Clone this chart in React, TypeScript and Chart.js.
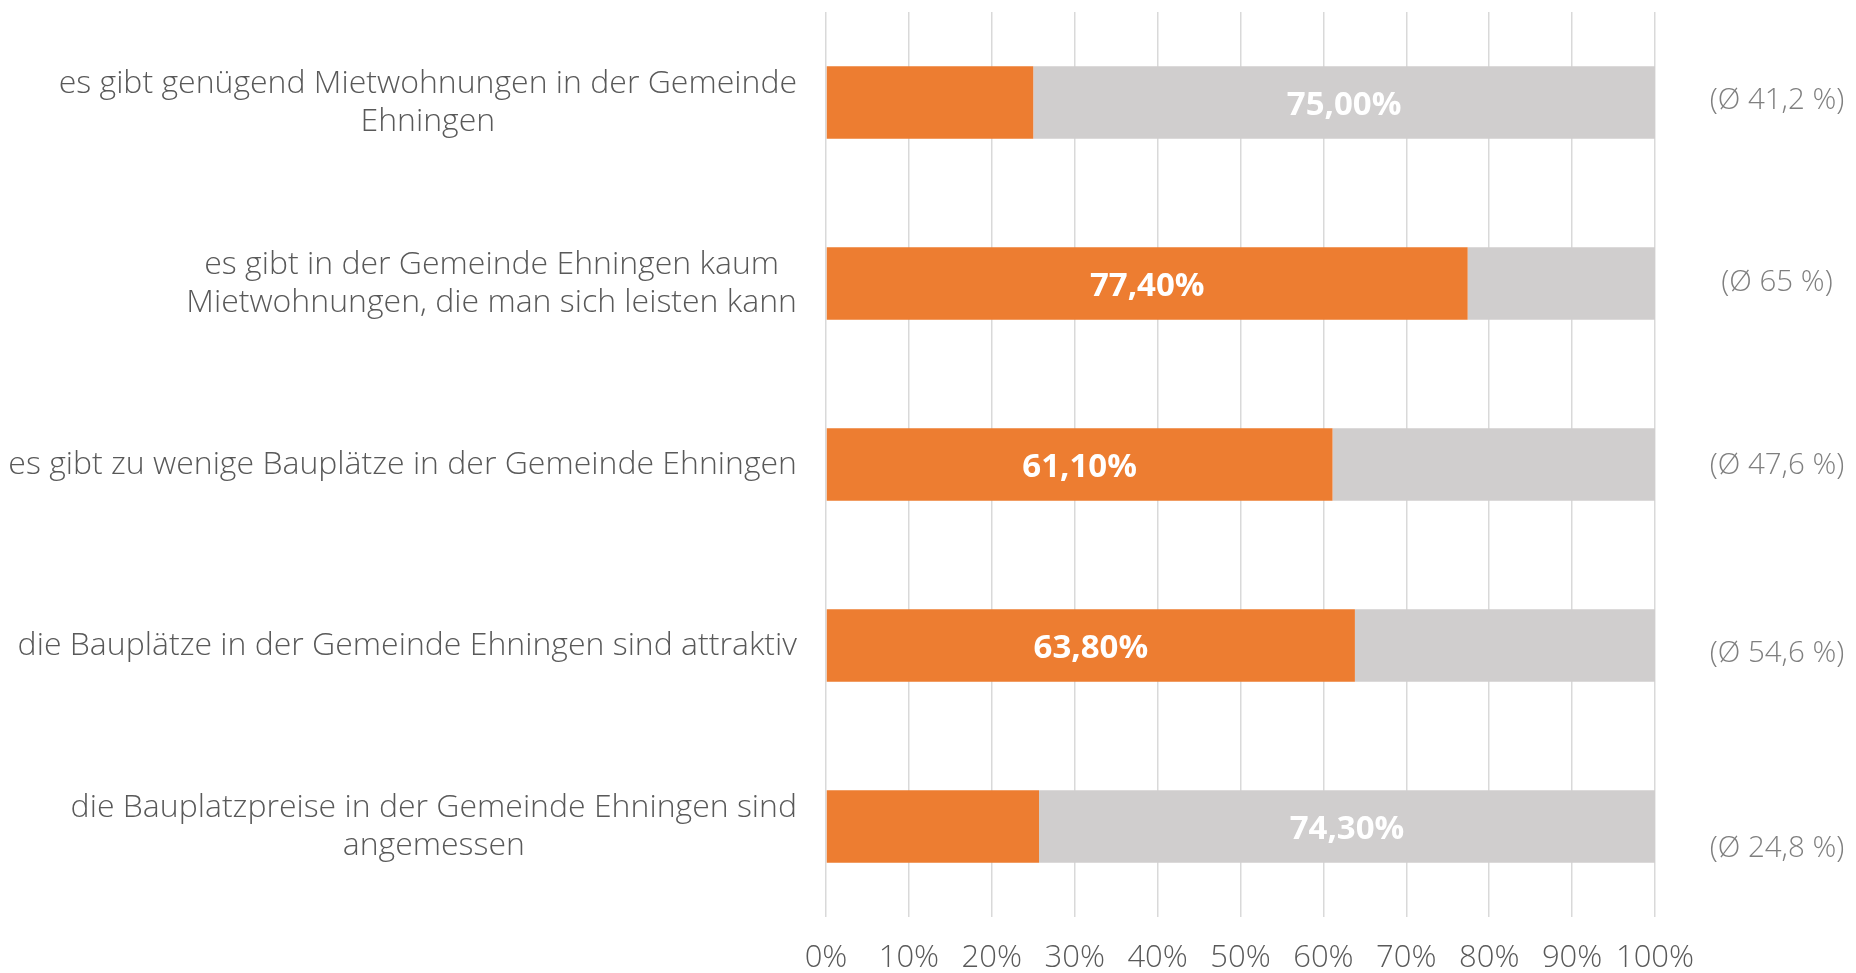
import React, { useEffect, useRef } from "react";
import { Chart, registerables } from "chart.js";

Chart.register(...registerables);

const categoryLines: string[][] = [
  ["es gibt genügend Mietwohnungen in der Gemeinde", "Ehningen"],
  ["es gibt in der Gemeinde Ehningen kaum", "Mietwohnungen, die man sich leisten kann"],
  ["es gibt zu wenige Bauplätze in der Gemeinde Ehningen"],
  ["die Bauplätze in der Gemeinde Ehningen sind attraktiv"],
  ["die Bauplatzpreise in der Gemeinde Ehningen sind", "angemessen"],
];
const agreeValues = [25.0, 77.4, 61.1, 63.8, 25.7];
const disagreeValues = [75.0, 22.6, 38.9, 36.2, 74.3];
const averageLabels = ["(Ø 41,2 %)", "(Ø 65 %)", "(Ø 47,6 %)", "(Ø 54,6 %)", "(Ø 24,8 %)"];

// layout-only nudges for the right-hand average notes (px)
const averageNudges = [-2, -1, 1, 8, 22];

const FONT = "'Open Sans', Lato, 'Noto Sans', sans-serif";
const ORANGE = "#ED7D31";
const GRAY = "#D0CECE";
const TEXT = "#595959";
const NOTE = "#7F7F7F";

const fmt = (v: number) => v.toFixed(2).replace(".", ",") + "%";

const overlayPlugin = {
  id: "overlay",
  afterDraw(chart: any) {
    const ctx = chart.ctx as CanvasRenderingContext2D;
    const yScale = chart.scales.y;
    const area = chart.chartArea;
    ctx.save();
    // category labels
    ctx.font = `300 32px ${FONT}`;
    ctx.fillStyle = TEXT;
    ctx.textAlign = "center";
    ctx.textBaseline = "middle";
    const rightEdge = area.left - 29;
    categoryLines.forEach((lines, i) => {
      const cy = yScale.getPixelForValue(i);
      const maxW = Math.max(...lines.map((l) => ctx.measureText(l).width));
      const cx = rightEdge - maxW / 2;
      lines.forEach((l, j) => {
        ctx.fillText(l, cx, cy + (j - (lines.length - 1) / 2) * 38);
      });
    });
    // value labels
    ctx.font = `bold 33px ${FONT}`;
    ctx.fillStyle = "#FFFFFF";
    const m0 = chart.getDatasetMeta(0);
    const m1 = chart.getDatasetMeta(1);
    agreeValues.forEach((a, i) => {
      const d = disagreeValues[i];
      const useAgree = a >= d;
      const el = (useAgree ? m0 : m1).data[i];
      const x = (el.x + el.base) / 2;
      ctx.fillText(fmt(useAgree ? a : d), x, el.y + 3);
    });
    // average notes
    ctx.font = `300 29.5px ${FONT}`;
    ctx.fillStyle = NOTE;
    averageLabels.forEach((t, i) => {
      const cy = yScale.getPixelForValue(i);
      ctx.fillText(t, area.right + 122, cy + averageNudges[i]);
    });
    ctx.restore();
  },
};

export default function App() {
  const ref = useRef<HTMLCanvasElement>(null);
  useEffect(() => {
    document.body.style.margin = "0";
    const chart = new Chart(ref.current!, {
      type: "bar",
      data: {
        labels: categoryLines.map((l) => l.join(" ")),
        datasets: [
          { label: "stimme zu", data: agreeValues, backgroundColor: ORANGE, barPercentage: 0.5, categoryPercentage: 0.8 },
          { label: "stimme nicht zu", data: disagreeValues, backgroundColor: GRAY, barPercentage: 0.5, categoryPercentage: 0.8 },
        ],
      },
      options: {
        indexAxis: "y",
        responsive: false,
        animation: false,
        layout: { padding: { left: 826, right: 201, top: 12, bottom: 0 } },
        plugins: { legend: { display: false }, tooltip: { enabled: false } },
        scales: {
          x: {
            stacked: true,
            min: 0,
            max: 100,
            afterFit: (scale: any) => {
              scale.height = 56;
            },
            ticks: {
              stepSize: 10,
              callback: (v: any) => v + "%",
              font: { family: FONT, size: 31, weight: "300" },
              color: TEXT,
              padding: 23,
              maxRotation: 0,
              autoSkip: false,
            },
            grid: { color: "#D9D9D9", lineWidth: 1.5, drawTicks: false },
            border: { display: false },
          },
          y: {
            stacked: true,
            display: false,
          },
        },
      },
      plugins: [overlayPlugin],
    });
    return () => chart.destroy();
  }, []);
  return (
    <div style={{ position: "absolute", left: 0, top: 0, width: 1856, height: 973, background: "#fff" }}>
      <canvas ref={ref} width={1856} height={973} style={{ display: "block" }} />
    </div>
  );
}
